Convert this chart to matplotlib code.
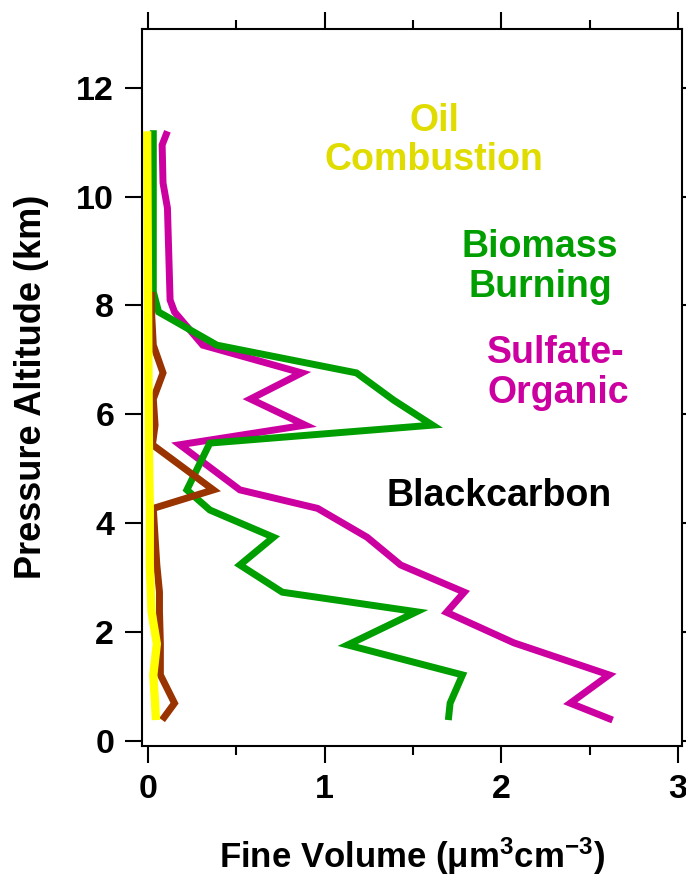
import matplotlib
matplotlib.use("Agg")
import matplotlib.pyplot as plt

plt.rcParams["font.family"] = ["Liberation Sans", "DejaVu Sans"]
plt.rcParams["font.weight"] = "bold"
plt.rcParams["mathtext.default"] = "regular"

# altitude (km) and fine volume (um^3 cm^-3) for each source profile
sulf_alt = [11.2, 10.95, 10.25, 9.79, 8.1, 7.88, 7.27, 6.76, 6.28, 5.80, 5.44,
            4.61, 4.27, 3.74, 3.23, 2.73, 2.36, 1.80, 1.21, 0.69, 0.38]
sulf_vol = [0.11, 0.08, 0.085, 0.11, 0.125, 0.15, 0.31, 0.87, 0.58, 0.89, 0.18,
            0.52, 0.96, 1.24, 1.43, 1.79, 1.69, 2.07, 2.61, 2.39, 2.63]

bio_alt = [11.22, 8.25, 7.88, 7.27, 6.76, 6.26, 5.80, 5.47, 4.61, 4.24, 3.74,
           3.23, 2.73, 2.37, 1.76, 1.21, 0.69, 0.38]
bio_vol = [0.03, 0.03, 0.06, 0.39, 1.18, 1.39, 1.61, 0.35, 0.22, 0.35, 0.71,
           0.52, 0.76, 1.52, 1.13, 1.78, 1.71, 1.70]

bc_alt = [8.25, 7.88, 7.27, 6.76, 6.28, 5.80, 5.44, 4.61, 4.27, 3.74, 3.23,
          2.73, 2.37, 1.78, 1.21, 0.69, 0.38]
bc_vol = [0.02, 0.02, 0.03, 0.085, 0.03, 0.04, 0.025, 0.37, 0.03, 0.04, 0.05,
          0.065, 0.065, 0.07, 0.07, 0.15, 0.08]

oil_alt = [11.2, 8.25, 5.44, 4.27, 3.23, 2.37, 1.78, 1.21, 0.69, 0.38]
oil_vol = [-0.005, 0.0, 0.005, 0.01, 0.01, 0.02, 0.05, 0.03, 0.04, 0.045]

c_sulf = "#CC00A0"
c_bio = "#009E00"
c_bc = "#993300"
c_oil = "#FFFF00"
c_oil_txt = "#E0DC00"

fig = plt.figure(figsize=(6.86, 8.76), dpi=100)
ax = fig.add_axes([0.207, 0.1487, 0.787, 0.8182])

line_kw = dict(solid_joinstyle="miter", solid_capstyle="butt")
ax.plot(sulf_vol, sulf_alt, color=c_sulf, lw=5, **line_kw)
ax.plot(bio_vol, bio_alt, color=c_bio, lw=5, **line_kw)
ax.plot(bc_vol, bc_alt, color=c_bc, lw=5, **line_kw)
ax.plot(oil_vol, oil_alt, color=c_oil, lw=6, **line_kw)

ax.set_xlim(-0.034, 3.022)
ax.set_ylim(-0.092, 13.08)
ax.set_xticks([0, 1, 2, 3])
ax.set_xticks([0.5, 1.5, 2.5], minor=True)
ax.set_yticks([0, 2, 4, 6, 8, 10, 12])

for s in ax.spines.values():
    s.set_linewidth(1.5)
ax.tick_params(which="both", direction="out", width=1.5,
               top=True, right=True, labeltop=False, labelright=False)
ax.tick_params(which="major", length=12, labelsize=24.5, pad=8)
ax.tick_params(which="minor", length=6.5)
for lab in ax.get_xticklabels() + ax.get_yticklabels():
    lab.set_fontweight("bold")

ax.set_xlabel("Fine Volume (μm$^{3}$cm$^{-3}$)", fontsize=25,
              fontweight="bold", labelpad=22)
ax.set_ylabel("Pressure Altitude (km)", fontsize=26, fontweight="bold",
              labelpad=20)

# source labels; y is the baseline of the last line
txt_kw = dict(fontsize=27, fontweight="bold", va="baseline", linespacing=1.12)
ax.text(1.62, 10.49, "Oil\nCombustion", color=c_oil_txt, ha="center",
        multialignment="center", **txt_kw)
ax.text(2.22, 8.16, "Biomass\nBurning", color=c_bio, ha="center",
        multialignment="center", **txt_kw)
ax.text(1.92, 6.21, "Sulfate-\nOrganic", color=c_sulf, ha="left",
        multialignment="left", **txt_kw)
ax.text(1.35, 4.31, "Blackcarbon", color="black", ha="left", **txt_kw)

fig.savefig("out.png", dpi=100)
